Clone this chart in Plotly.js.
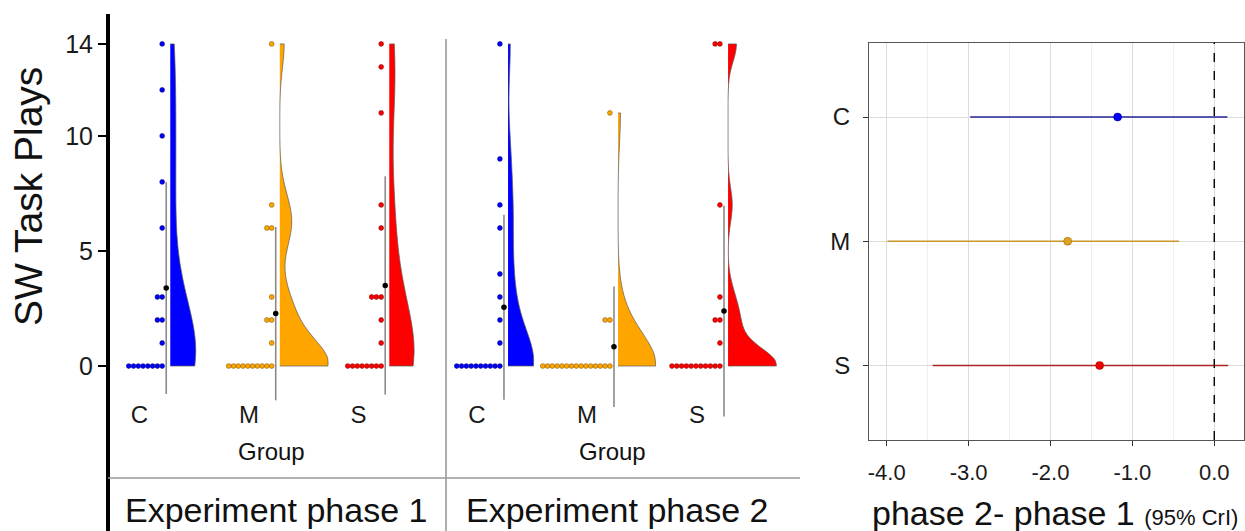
<!DOCTYPE html>
<html><head><meta charset="utf-8">
<script src="https://cdn.plot.ly/plotly-3.0.1.min.js"></script>
<style>html,body{margin:0;padding:0;background:#fff;} #chart{width:1245px;height:531px;}</style>
</head><body><div id="chart"></div>
<script>
// ---------- data ----------
const groups = ['C', 'M', 'S'];
const phase1C = [0,0,0,0,0,0,0,0,1,2,2,3,3,6,8,10,12,14];
const phase1M = [0,0,0,0,0,0,0,0,0,0,1,2,2,3,6,6,7,14];
const phase1S = [0,0,0,0,0,0,0,0,1,2,3,3,3,6,7,11,13,14];
const phase2C = [0,0,0,0,0,0,0,0,0,0,1,2,3,4,6,7,9,14];
const phase2M = [0,0,0,0,0,0,0,0,0,0,0,0,0,0,0,2,2,11];
const phase2S = [0,0,0,0,0,0,0,0,0,0,0,1,2,2,3,7,14,14];
const yTicks = [0, 5, 10, 14];
const forestEst  = [-1.18, -1.79, -1.40];
const forestLow  = [-2.98, -3.99, -3.44];
const forestHigh = [0.16, -0.43, 0.17];
const xTicksForest = [-4, -3, -2, -1, 0];
const xTickTextForest = ['-4.0', '-3.0', '-2.0', '-1.0', '0.0'];

// ---------- styles ----------
const W = 1245, H = 531;
const FONT = 'Liberation Sans, Arial, sans-serif';
const fillCol = ['#0000ff', '#ffa500', '#ff0000'];
const dotLine = ['#00007a', '#8a5a00', '#8a0000'];
const forestLine = ['#23239a', '#c9962a', '#b02424'];
const forestDot = ['#0000ff', '#e0a020', '#ee0000'];
const px = p => p / W, py = p => 1 - p / H;

// ---------- stats helpers ----------
const mean = a => a.reduce((s, v) => s + v, 0) / a.length;
const sd = a => { const m = mean(a); return Math.sqrt(a.reduce((s, v) => s + (v - m) * (v - m), 0) / (a.length - 1)); };
const quant = (a, p) => { const s = [...a].sort((x, y) => x - y); const h = (s.length - 1) * p; const lo = Math.floor(h); return s[lo] + (h - lo) * ((s[Math.min(lo + 1, s.length - 1)]) - s[lo]); };
const nrd0 = a => { const hi = sd(a); let lo = Math.min(hi, (quant(a, 0.75) - quant(a, 0.25)) / 1.34); if (!lo) lo = hi || Math.abs(a[0]) || 1; return 0.9 * lo * Math.pow(a.length, -0.2); };
// peak of the gaussian kernel density (used only to scale violins to equal area within a panel)
const kdePeak = (a, bw) => {
  const lo = Math.min(...a), hi = Math.max(...a); let best = 0;
  for (let k = 0; k <= 400; k++) {
    const t = lo + (hi - lo) * k / 400; let s = 0;
    a.forEach(v => { const u = (t - v) / bw; s += Math.exp(-0.5 * u * u); });
    best = Math.max(best, s / (a.length * bw * Math.sqrt(2 * Math.PI)));
  }
  return best;
};

const VIOLIN_NUDGE = 0.282, LINE_NUDGE = 0.245, DOT_NUDGE = 0.208, DOT_STEP = 0.0436;
const VIOLIN_WIDTH = 0.88;

const traces = [];
const phases = [
  {axis: 'x', data: [phase1C, phase1M, phase1S]},
  {axis: 'x2', data: [phase2C, phase2M, phase2S]}
];
phases.forEach(ph => {
  const bws = ph.data.map(nrd0);
  const peaks = ph.data.map((d, i) => kdePeak(d, bws[i]));
  const maxPeak = Math.max(...peaks);
  ph.data.forEach((d, i) => {
    const pos = i + 1;
    traces.push({
      type: 'violin', x0: pos + VIOLIN_NUDGE, y: d, side: 'positive',
      width: VIOLIN_WIDTH * peaks[i] / maxPeak, scalemode: 'width', spanmode: 'hard',
      bandwidth: bws[i], points: false, box: {visible: false}, meanline: {visible: false},
      fillcolor: fillCol[i], line: {color: '#5a5a5a', width: 0.7},
      xaxis: ph.axis, yaxis: 'y', hoverinfo: 'skip', showlegend: false
    });
  });
  ph.data.forEach((d, i) => {
    const pos = i + 1;
    const seen = {};
    const xs = d.map(v => { seen[v] = (seen[v] || 0); const k = seen[v]++; return pos + DOT_NUDGE - k * DOT_STEP; });
    traces.push({
      type: 'scatter', mode: 'markers', x: xs, y: d, xaxis: ph.axis, yaxis: 'y',
      marker: {size: 4.8, color: fillCol[i], line: {color: dotLine[i], width: 0.6}},
      hoverinfo: 'skip', showlegend: false
    });
  });
  ph.data.forEach((d, i) => {
    const pos = i + 1;
    traces.push({
      type: 'scatter', mode: 'markers', x: [pos + LINE_NUDGE], y: [mean(d)], xaxis: ph.axis, yaxis: 'y',
      error_y: {type: 'data', array: [sd(d)], visible: true, width: 0, color: '#8a8a8a', thickness: 1.6},
      marker: {size: 5.5, color: '#000'}, hoverinfo: 'skip', showlegend: false
    });
  });
});

// forest plot
groups.forEach((g, i) => {
  traces.push({
    type: 'scatter', mode: 'markers', x: [forestEst[i]], y: [i + 1], xaxis: 'x3', yaxis: 'y3',
    error_x: {type: 'data', symmetric: false, array: [forestHigh[i] - forestEst[i]], arrayminus: [forestEst[i] - forestLow[i]],
              width: 0, color: forestLine[i], thickness: 1.5, visible: true},
    marker: {size: 8, color: forestDot[i], line: {color: dotLine[i], width: 0.5}},
    hoverinfo: 'skip', showlegend: false
  });
});

const tickFont = {family: FONT, size: 24, color: '#1a1a1a'};
const ann = (text, x, y, size, extra) => Object.assign({text, xref: 'paper', yref: 'paper', x: px(x), y: py(y), showarrow: false,
  xanchor: 'center', yanchor: 'middle', font: {family: FONT, size, color: '#111'}}, extra || {});
const layout = {
  width: W, height: H, margin: {l: 0, r: 0, t: 0, b: 0},
  paper_bgcolor: '#fff', plot_bgcolor: 'rgba(0,0,0,0)', showlegend: false,
  font: {family: FONT, color: '#1a1a1a'},
  violinmode: 'overlay',
  xaxis: {domain: [px(109.5), px(446)], range: [0.727, 3.8], anchor: 'free', position: py(398),
          tickmode: 'array', tickvals: [1, 2, 3], ticktext: groups, ticks: '', showline: false,
          showgrid: false, zeroline: false, tickfont: tickFont, fixedrange: true},
  xaxis2: {domain: [px(446), px(800)], range: [0.718, 3.936], anchor: 'free', position: py(398),
          tickmode: 'array', tickvals: [1, 2, 3], ticktext: groups, ticks: '', showline: false,
          showgrid: false, zeroline: false, tickfont: tickFont, fixedrange: true},
  yaxis: {domain: [0, py(14)], range: [-7.17, 15.30], anchor: 'x', tickmode: 'array', tickvals: yTicks,
          ticks: 'outside', ticklen: 8, tickwidth: 2.5, tickcolor: '#000', showline: true, linewidth: 3.5,
          linecolor: '#000', showgrid: false, zeroline: false, tickfont: {family: FONT, size: 25, color: '#1a1a1a'}, fixedrange: true},
  xaxis3: {domain: [px(869), px(1244)], range: [-4.216, 0.363], anchor: 'y3', tickmode: 'array', tickvals: xTicksForest,
           ticktext: xTickTextForest, ticks: 'outside', ticklen: 5, tickwidth: 1, tickcolor: '#333', ticklabelstandoff: 8,
           showline: true, mirror: true, linecolor: '#555', linewidth: 1, showgrid: true, gridcolor: '#dcdcdc', gridwidth: 1,
           minor: {tickmode: 'linear', tick0: 0, dtick: 0.5, showgrid: true, gridcolor: '#efefef', gridwidth: 1, ticks: ''},
           zeroline: false, tickfont: {family: FONT, size: 22, color: '#1a1a1a'}, fixedrange: true},
  yaxis3: {domain: [py(440), py(42.5)], range: [3.6, 0.4], anchor: 'x3', tickmode: 'array', tickvals: [1, 2, 3], ticktext: groups,
           ticks: 'outside', ticklen: 5, tickwidth: 1, tickcolor: '#333', ticklabelstandoff: 8,
           showline: true, mirror: true, linecolor: '#555', linewidth: 1, showgrid: true, gridcolor: '#dcdcdc', gridwidth: 1,
           zeroline: false, tickfont: tickFont, fixedrange: true},
  shapes: [
    {type: 'line', xref: 'paper', yref: 'paper', x0: px(446), x1: px(446), y0: 0, y1: py(39), line: {color: '#9a9a9a', width: 1.6}},
    {type: 'line', xref: 'paper', yref: 'paper', x0: px(108), x1: px(800), y0: py(478), y1: py(478), line: {color: '#9a9a9a', width: 1.6}},
    {type: 'line', xref: 'x3', yref: 'y3 domain', x0: 0, x1: 0, y0: 0, y1: 1, line: {color: '#000', width: 1.4, dash: 'dash'}}
  ],
  annotations: [
    ann('SW Task Plays', 28, 197, 39, {textangle: -90}),
    ann('Group', 271, 451, 24),
    ann('Group', 612, 451, 24),
    ann('Experiment phase 1', 276, 510, 34),
    ann('Experiment phase 2', 617, 510, 34),
    ann('phase 2- phase 1 <span style="font-size:22px">(95% CrI)</span>', 1055, 513, 34)
  ]
};

Plotly.newPlot('chart', traces, layout, {displayModeBar: false, staticPlot: true});
</script>
</body></html>
